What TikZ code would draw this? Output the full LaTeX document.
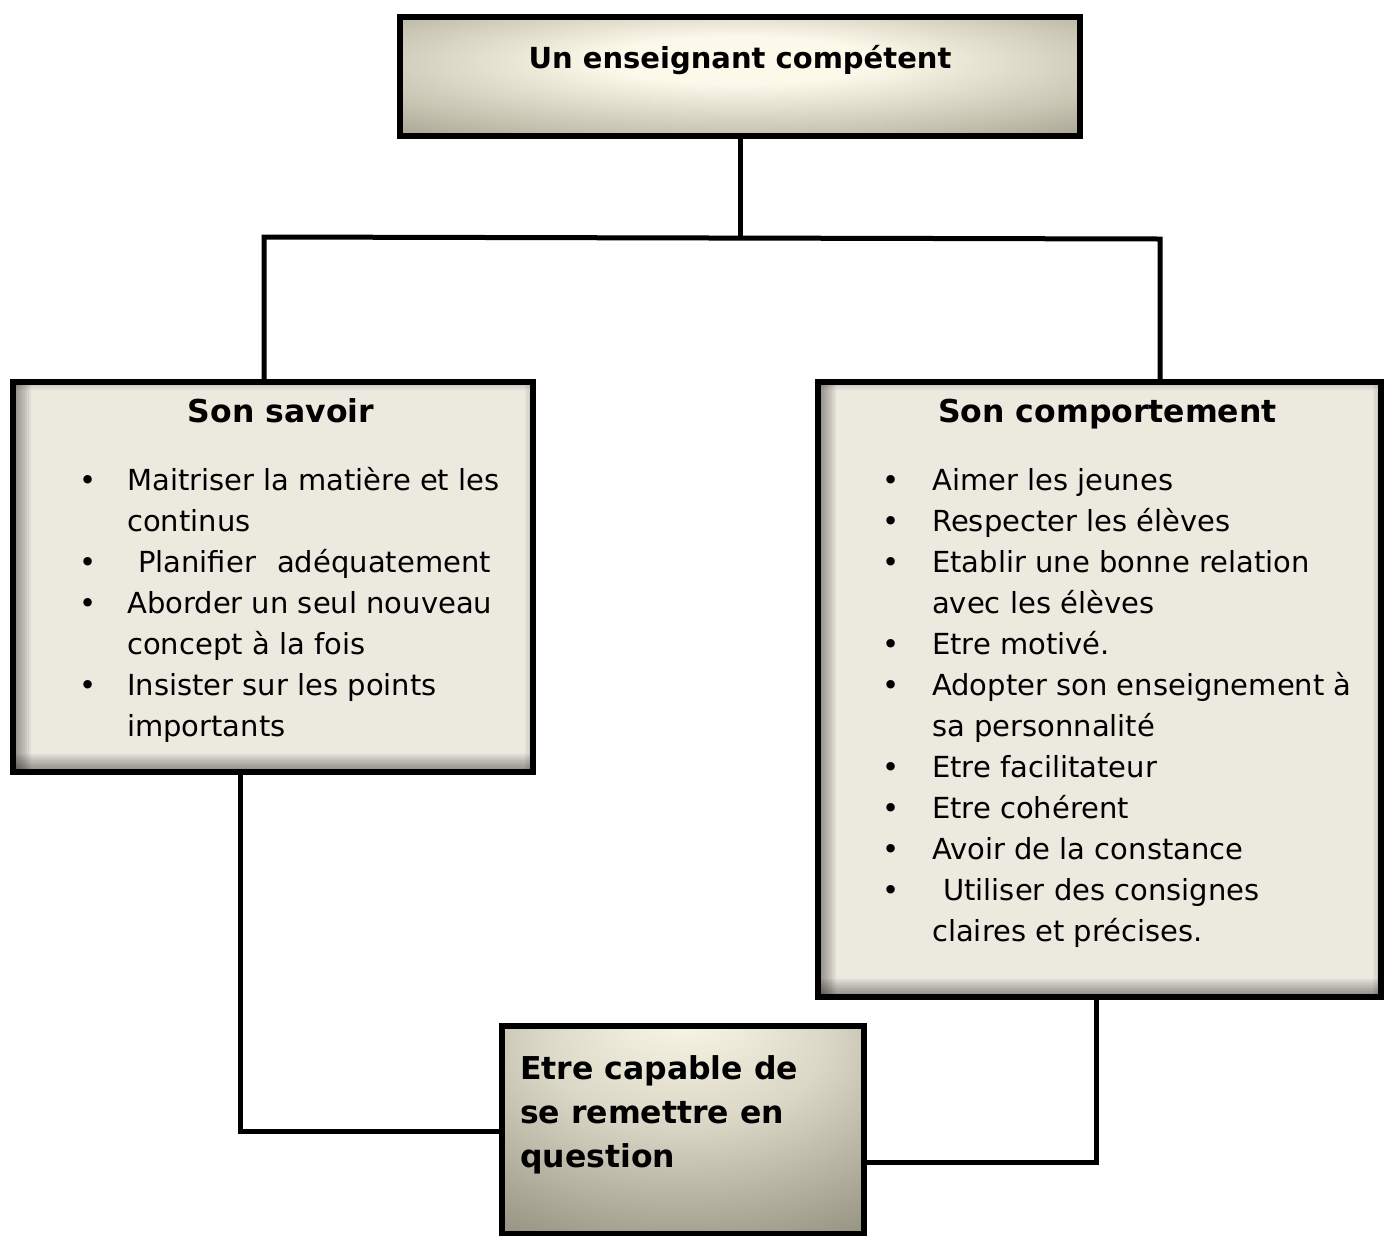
\documentclass[tikz,border=0pt]{standalone}
\usepackage{fontspec}
\setmainfont{DejaVu Sans}
\usetikzlibrary{calc}
\usetikzlibrary{positioning}

\definecolor{creme}{HTML}{FCF9EA}
\definecolor{fond}{HTML}{ECE9DF}
\definecolor{grisclair}{HTML}{C4C0AE}
\definecolor{grisbord}{HTML}{8A8777}

\pgfdeclareradialshading{lueurhaut}{\pgfpoint{0bp}{8bp}}{color(0bp)=(creme); color(10bp)=(creme); color(30bp)=(grisclair); color(47bp)=(grisbord); color(70bp)=(grisbord!75!black)}
\pgfdeclareradialshading{lueurbas}{\pgfpoint{0bp}{30bp}}{color(0bp)=(creme); color(20bp)=(grisclair!60!creme); color(48bp)=(grisbord); color(70bp)=(grisbord!80!black)}

\tikzset{
 boite/.style={draw=black, line width=6pt, anchor=north west, inner sep=0pt},
 boite claire/.style={boite, fill=fond, path picture={
  \foreach \i in {1,...,9} {
   \fill[black, opacity=0.05] (path picture bounding box.south west) rectangle ([xshift={2*\i}]path picture bounding box.north west);
   \fill[black, opacity=0.05] (path picture bounding box.south west) rectangle ([yshift={2*\i}]path picture bounding box.south east);
  }
  \foreach \i in {1,...,4} {
   \fill[black, opacity=0.04] (path picture bounding box.north west) rectangle ([yshift={-2*\i}]path picture bounding box.north east);
   \fill[black, opacity=0.04] (path picture bounding box.north east) rectangle ([xshift={-2*\i}]path picture bounding box.south east);
  }
 }},
 lien/.style={draw=black, line width=5pt},
 titre/.style={font=\bfseries\fontsize{31.5}{38}\selectfont, inner sep=0pt, anchor=base},
 liste/.style={font=\fontsize{29}{41}\selectfont, inner sep=0pt, anchor=base west},
 puce/.style={font=\fontsize{29}{41}\selectfont, inner sep=0pt, anchor=base},
}

\begin{document}
\begin{tikzpicture}[x=1pt, y=-1pt]
\useasboundingbox (0,0) rectangle (1387,1235);

% les quatre boites
\node[boite, shading=lueurhaut, minimum width=680, minimum height=119] (enseignant) at (397,14) {};
\node[boite claire, minimum width=520, minimum height=390] (savoir) at (10,379) {};
\node[boite claire, minimum width=563, minimum height=615] (comportement) at (815,379) {};
\node[boite, shading=lueurbas, minimum width=362, minimum height=208] (remise) at (499,1023) {};

% liens
\coordinate (noeud) at (enseignant.south |- 0,237);
\coordinate (gauche) at (264,237);
\coordinate (droite) at (1160,239);
\coordinate (basg) at (240,1131);
\coordinate (basd) at (1096,1162);
\draw[lien] (enseignant.south) -- (noeud);
\draw[lien] (gauche |- savoir.north) -- (gauche) -- (droite) -- (droite |- comportement.north);
\draw[lien] (savoir.south -| basg) -- (basg) -- (basg -| remise.west);
\draw[lien] (comportement.south -| basd) -- (basd) -- (basd -| remise.east);

% textes
\node[titre, font=\bfseries\fontsize{29}{35}\selectfont] (t-enseignant) at ($(enseignant.north)+(0,54)$) {Un enseignant compétent};
\node[titre] (t-savoir) at ($(savoir.north)+(8,43)$) {Son savoir};
\node[titre] (t-comportement) at ($(comportement.north)+(8,43)$) {Son comportement};

\foreach \rang/\avec/\texte in {0/1/{Maitriser la matière et les}, 1/0/{continus}, 2/1/{\hspace{11pt}Planifier\hspace{12pt} adéquatement}, 3/1/{Aborder un seul nouveau}, 4/0/{concept à la fois}, 5/1/{Insister sur les points}, 6/0/{importants}} {
 \node[liste] (s-\rang) at ($(savoir.north west)+(117,111+41*\rang)$) {\texte};
 \ifnum\avec=1 \node[puce] (sp-\rang) at ($(savoir.north west)+(78,111+41*\rang)$) {•}; \fi
}

\foreach \rang/\avec/\texte in {0/1/{Aimer les jeunes}, 1/1/{Respecter les élèves}, 2/1/{Etablir une bonne relation}, 3/0/{avec les élèves}, 4/1/{Etre motivé.}, 5/1/{Adopter son enseignement à}, 6/0/{sa personnalité}, 7/1/{Etre facilitateur}, 8/1/{Etre cohérent}, 9/1/{Avoir de la constance}, 10/1/{\hspace{11pt}Utiliser des consignes}, 11/0/{claires et précises.}} {
 \node[liste] (c-\rang) at ($(comportement.north west)+(117,111+41*\rang)$) {\texte};
 \ifnum\avec=1 \node[puce] (cp-\rang) at ($(comportement.north west)+(76,111+41*\rang)$) {•}; \fi
}

\foreach \rang/\texte in {0/{Etre capable de}, 1/{se remettre en}, 2/{question}} {
 \node[titre, anchor=base west] (r-\rang) at ($(remise.north west)+(21,56+44*\rang)$) {\texte};
}
\end{tikzpicture}
\end{document}
